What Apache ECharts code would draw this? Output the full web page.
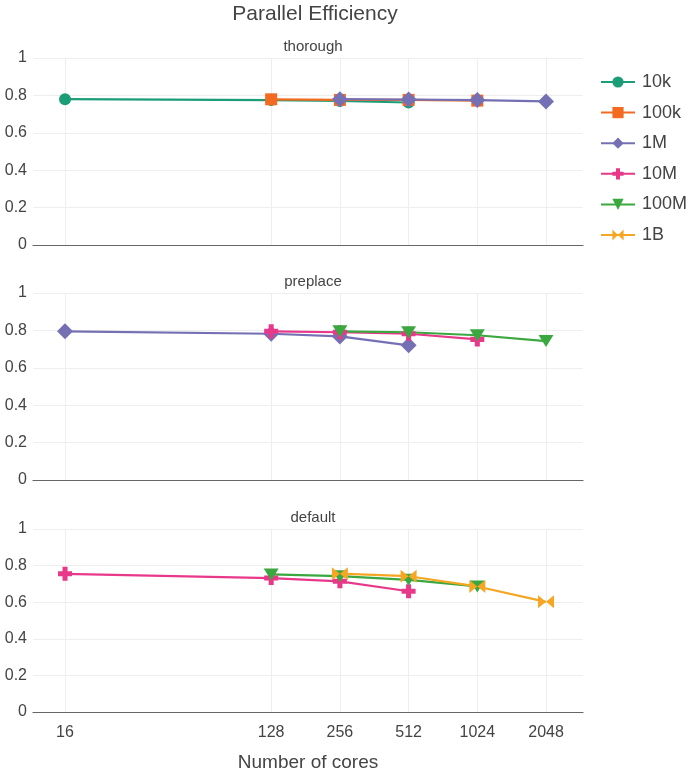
<!DOCTYPE html>
<html>
<head>
<meta charset="utf-8">
<script src="https://cdn.jsdelivr.net/npm/echarts@6/dist/echarts.min.js"></script>
<style>html,body{margin:0;padding:0;background:#fff}#c{width:690px;height:773px}</style>
</head>
<body>
<div id="c"></div>
<script>
const cores = [16, 128, 256, 512, 1024, 2048];
const seriesNames = ['10k', '100k', '1M', '10M', '100M', '1B'];
const panelTitles = ['thorough', 'preplace', 'default'];
const yTicks = [0, 0.2, 0.4, 0.6, 0.8, 1];

// values per panel, aligned with cores (null = no point)
const thorough_10k  = [0.78, 0.775, 0.77, 0.762, null, null];
const thorough_100k = [null, 0.779, 0.776, 0.776, 0.772, null];
const thorough_1M   = [null, null, 0.78, 0.778, 0.775, 0.768];

const preplace_1M   = [0.795, 0.782, 0.768, 0.72, null, null];
const preplace_10M  = [null, 0.795, 0.79, 0.782, 0.752, null];
const preplace_100M = [null, null, 0.795, 0.79, 0.774, 0.743];

const default_10M   = [0.755, 0.732, 0.714, 0.66, null, null];
const default_100M  = [null, 0.752, 0.742, 0.722, 0.686, null];
const default_1B    = [null, null, 0.756, 0.742, 0.686, 0.602];

const colors = {'10k':'#1b9e77','100k':'#f26b21','1M':'#7570b3','10M':'#e8388a','100M':'#3ba83f','1B':'#f5a623'};
const symbols = {
  '10k': 'circle',
  '100k': 'rect',
  '1M': 'diamond',
  '10M': 'path://M3.2,0 H6.8 V3.2 H10 V6.8 H6.8 V10 H3.2 V6.8 H0 V3.2 H3.2 Z',
  '100M': 'path://M0,0 L10,0 L5,8.66 Z',
  '1B': 'path://M0,0 L10,6 L0,12 Z M20,0 L10,6 L20,12 Z'
};
const symSizes = {'10k':12,'100k':12,'1M':16,'10M':14,'100M':[15,12],'1B':[16,13]};

const panels = [
  [['10k', thorough_10k], ['100k', thorough_100k], ['1M', thorough_1M]],
  [['1M', preplace_1M], ['10M', preplace_10M], ['100M', preplace_100M]],
  [['10M', default_10M], ['100M', default_100M], ['1B', default_1B]]
];

const FONT = "'Liberation Sans', Arial, sans-serif";
const gridTops = [58, 293, 529];
const gridH = 187;
const xMin = 3.534, xMax = 11.538;
const tickLogs = cores.map(c => Math.log2(c));

const grids = [], xAxes = [], yAxes = [], series = [];
const titles = [{
  text: 'Parallel Efficiency', left: 310, top: -1, textAlign: 'center',
  textStyle: {fontFamily: FONT, fontSize: 21, fontWeight: 'normal', color: '#444'}
}];

panels.forEach((panel, i) => {
  grids.push({left: 33, width: 550, top: gridTops[i], height: gridH});
  titles.push({
    text: panelTitles[i], left: 308, top: gridTops[i] - 24, textAlign: 'center',
    textStyle: {fontFamily: FONT, fontSize: 15, fontWeight: 'normal', color: '#444'}
  });
  const last = i === panels.length - 1;
  xAxes.push({
    type: 'value', gridIndex: i, min: xMin, max: xMax,
    axisLine: {show: true, onZero: false, lineStyle: {color: '#666', width: 1.2}},
    axisTick: {show: false},
    splitLine: {show: false},
    axisLabel: {
      show: last, customValues: tickLogs, margin: 13,
      formatter: v => String(Math.round(Math.pow(2, v))),
      fontFamily: FONT, fontSize: 16, color: '#444'
    },
    name: last ? 'Number of cores' : '', nameLocation: 'middle', nameGap: 41,
    nameTextStyle: {fontFamily: FONT, fontSize: 19, color: '#444'}
  });
  yAxes.push({
    type: 'value', gridIndex: i, min: 0, max: 1, interval: 0.2,
    axisLine: {show: false}, axisTick: {show: false},
    splitLine: {show: true, lineStyle: {color: '#eeeeee', width: 1}},
    axisLabel: {margin: 6, fontFamily: FONT, fontSize: 16, color: '#444',
      formatter: v => String(Math.round(v * 10) / 10)}
  });
  // vertical gridlines at the core counts
  series.push({
    type: 'line', xAxisIndex: i, yAxisIndex: i, data: [], silent: true, z: 0,
    markLine: {
      silent: true, symbol: 'none', z: 0, animation: false,
      label: {show: false},
      lineStyle: {color: '#eeeeee', width: 1, type: 'solid'},
      data: tickLogs.map(v => ({xAxis: v}))
    }
  });
  panel.forEach(([name, vals]) => {
    const data = [];
    vals.forEach((v, k) => { if (v !== null) data.push([Math.log2(cores[k]), v]); });
    series.push({
      name, type: 'line', xAxisIndex: i, yAxisIndex: i, data, z: 3,
      symbol: symbols[name], symbolSize: symSizes[name],
      showAllSymbol: true,
      lineStyle: {color: colors[name], width: 2.2},
      itemStyle: {color: colors[name], borderWidth: 0},
      emphasis: {disabled: true},
      animation: false
    });
  });
});

const chart = echarts.init(document.getElementById('c'), null, {renderer: 'canvas'});
chart.setOption({
  backgroundColor: '#fff',
  animation: false,
  title: titles,
  grid: grids,
  xAxis: xAxes,
  yAxis: yAxes,
  legend: {
    data: seriesNames, orient: 'vertical', left: 600, top: 73, padding: 0,
    itemWidth: 34, itemHeight: 14, itemGap: 12.6,
    textStyle: {fontFamily: FONT, fontSize: 18, color: '#444', padding: [0, 0, 0, 2]}
  },
  series
});
</script>
</body>
</html>
